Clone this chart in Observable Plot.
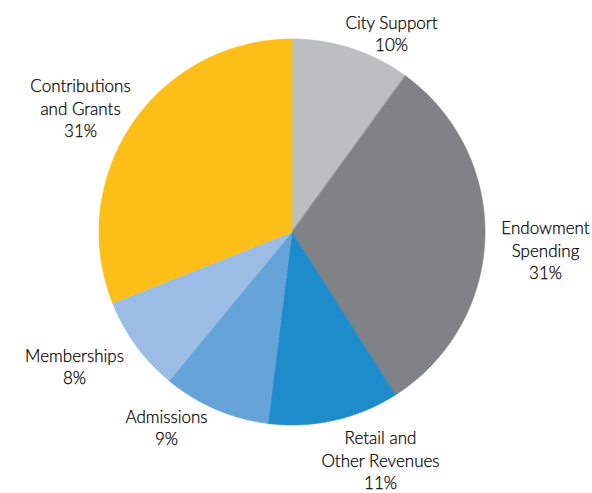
<!DOCTYPE html>
<html><head><meta charset="utf-8">
<script src="https://cdn.jsdelivr.net/npm/d3@7"></script>
<script src="https://cdn.jsdelivr.net/npm/@observablehq/plot@0.6"></script>
<style>body{margin:0;background:#fff}</style>
</head><body><div id="chart"></div>
<script>
const categories = ["City Support","Endowment Spending","Retail and Other Revenues","Admissions","Memberships","Contributions and Grants"];
const shares = [10,31,11,9,8,31];
const labelLines = ["City Support","Endowment\nSpending","Retail and\nOther Revenues","Admissions","Memberships","Contributions\nand Grants"];
const colors = ["#bdbec0","#808285","#1e8bcb","#65a3d8","#9bbde5","#fdbf17"];

// layout (pixels)
const W = 592, H = 493, cx = 292, cy = 232, R = 193;
const labelAt = [[391,32],[545,249],[380,459],[166,426],[74,365],[80,107]];

const arcs = d3.pie().sort(null).value(d => d)(shares);
const wedge = [];
arcs.forEach((a, i) => {
  const n = Math.max(2, Math.ceil((a.endAngle - a.startAngle) / 0.005));
  for (let k = 0; k <= n; k++) {
    const t = a.startAngle + (a.endAngle - a.startAngle) * k / n;
    wedge.push({cat: categories[i], x0: 0, y0: 0, x: Math.sin(t), y: Math.cos(t)});
  }
});

const labels = categories.map((c, i) => ({
  cat: c,
  text: labelLines[i] + "\n" + shares[i] + "%",
  x: (labelAt[i][0] - cx) / R,
  y: (cy - labelAt[i][1]) / R
}));

const chart = Plot.plot({
  width: W, height: H, margin: 0,
  x: {domain: [-cx / R, (W - cx) / R], range: [0, W], axis: null},
  y: {domain: [cy / R, -(H - cy) / R], range: [0, H], axis: null},
  color: {domain: categories, range: colors},
  style: {fontFamily: "Lato, sans-serif", background: "#fff"},
  marks: [
    Plot.area(wedge, {x1: "x0", y1: "y0", x2: "x", y2: "y", z: "cat", fill: "cat", stroke: "cat", strokeWidth: 0.6, curve: "linear"}),
    Plot.text(labels, {x: "x", y: "y", text: "text", fontSize: 17, fontWeight: 300, lineHeight: 1.3, fill: "#000", stroke: "#000", strokeWidth: 0.25, textAnchor: "middle"})
  ]
});
document.getElementById("chart").appendChild(chart);
</script>
</body></html>
